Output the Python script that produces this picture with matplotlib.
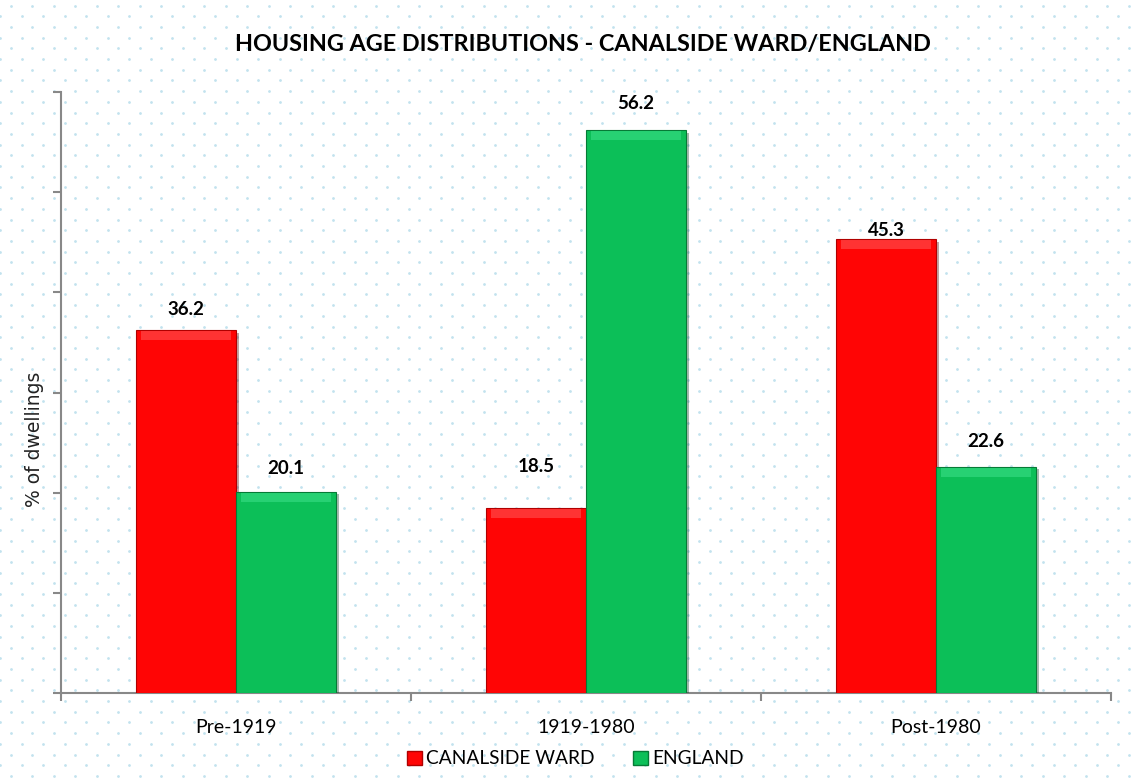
#!/usr/bin/env python3

import numpy as np
import matplotlib
matplotlib.use('Agg')
import matplotlib.pyplot as plt
from matplotlib.patches import Patch
import matplotlib.patheffects as pe

categories = ['Pre-1919', '1919-1980', 'Post-1980']
canalside = [36.2, 18.5, 45.3]
england = [20.1, 56.2, 22.6]
series_names = ['CANALSIDE WARD', 'ENGLAND']

# label offsets above the bar tops, in points (as placed in the original)
canalside_off = [15, 30, 6]
england_off = [17, 19, 18]

red = '#ff0505'
green = '#0cbf58'
font = 'Lato'

fig = plt.figure(figsize=(11.38, 7.84), dpi=100)

# dotted background pattern
bg = fig.add_axes([0, 0, 1, 1], zorder=-5)
bg.set_xlim(0, 1138)
bg.set_ylim(784, 0)
bg.axis('off')
rows = np.arange(5.5, 784, 10.7)
xs, ys = [], []
for i, r in enumerate(rows):
    start = 11 if i % 2 == 0 else 0.25
    cols = np.arange(start, 1138, 21.5)
    xs.extend(cols)
    ys.extend([r] * len(cols))
bg.scatter(xs, ys, s=4, c='#c2e2ee', linewidths=0)

ax = fig.add_axes([61 / 1138, 1 - 693 / 784, 1050 / 1138, 601 / 784])
ax.patch.set_alpha(0)

x = np.arange(len(categories))
w = 100 / 350
shadow = [pe.SimplePatchShadow(offset=(2, -2), alpha=0.35), pe.Normal()]
b1 = ax.bar(x - w / 2, canalside, w, color=red, edgecolor='#b00000', linewidth=0.8,
            path_effects=shadow, zorder=3)
b2 = ax.bar(x + w / 2, england, w, color=green, edgecolor='#067a36', linewidth=0.8,
            path_effects=shadow, zorder=3)

# light bevel strip along each bar top
for bars, col in [(b1, '#ff5a5a'), (b2, '#3ee08a')]:
    for b in bars:
        ax.bar(b.get_x() + b.get_width() / 2, 0.9, b.get_width() * 0.9,
               bottom=b.get_height() - 1.0, color=col, alpha=0.55, linewidth=0, zorder=4)

for bars, vals, offs in [(b1, canalside, canalside_off), (b2, england, england_off)]:
    for b, v, o in zip(bars, vals, offs):
        ax.annotate(f'{v:.1f}', (b.get_x() + b.get_width() / 2, v),
                    xytext=(0, o), textcoords='offset points', ha='center', va='center',
                    fontsize=13.5, fontweight='bold', family=font)

ax.set_xlim(-0.5, 2.5)
ax.set_ylim(0, 60)
ax.set_yticks(np.arange(0, 61, 10))
ax.set_yticklabels([])
ax.set_xticks(x)
ax.set_xticklabels(categories, fontsize=14, family=font)
ax.set_xticks(np.arange(-0.5, 2.6, 1), minor=True)
ax.tick_params(axis='x', which='major', length=0, pad=19)
ax.tick_params(axis='x', which='minor', length=6, width=1.5, color='#888888')
ax.tick_params(axis='y', length=6, width=1.5, color='#888888')
for s in ['top', 'right']:
    ax.spines[s].set_visible(False)
for s in ['left', 'bottom']:
    ax.spines[s].set_color('#888888')
    ax.spines[s].set_linewidth(1.5)

fig.text(34 / 1138, 1 - 439 / 784, '% of dwellings', rotation=90, ha='center', va='center',
         fontsize=13.5, family='DejaVu Sans', color='#222222')
fig.text(583 / 1138, 1 - 45 / 784, 'HOUSING AGE DISTRIBUTIONS - CANALSIDE WARD/ENGLAND',
         ha='center', va='center', fontsize=16.8, fontweight='bold', family=font)

handles = [Patch(facecolor=red, edgecolor='#b00000'), Patch(facecolor=green, edgecolor='#067a36')]
fig.legend(handles, series_names, loc='center', bbox_to_anchor=(575 / 1138, 1 - 759 / 784),
           ncol=2, frameon=False, handlelength=0.8, handleheight=0.8, handletextpad=0.2,
           columnspacing=2.0, prop={'family': font, 'size': 13.8})

fig.savefig('out.png', dpi=100)
